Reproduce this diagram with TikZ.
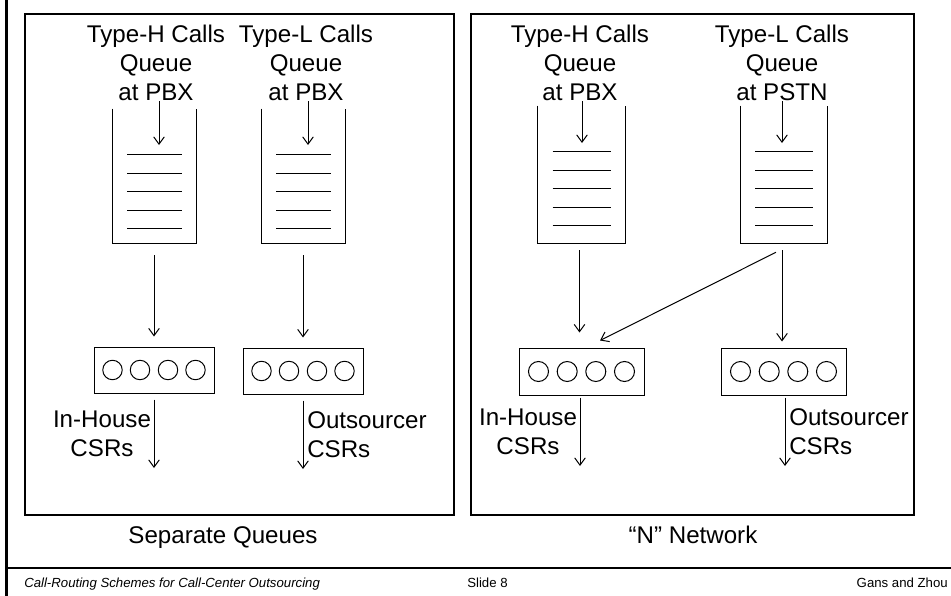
\documentclass[tikz,border=0pt]{standalone}
\usepackage{fontspec}
\setmainfont{Liberation Sans}
\usetikzlibrary{arrows.meta,calc}
\begin{document}
\begin{tikzpicture}[x=0.75pt,y=-0.75pt,
  thinline/.style={line width=0.75pt},
  flow/.style={line width=0.75pt,-{Straight Barb[length=5.5pt,width=8pt]}},
  panel/.style={draw,line width=1.1pt},
  big/.style={font=\fontsize{18.1}{21.75}\selectfont,inner sep=0pt},
  title/.style={big,align=center},
  foot/.style={font=\fontsize{9.9}{12}\selectfont,inner sep=0pt},
  queue/.style={minimum width=83*0.75pt,minimum height=134*0.75pt,inner sep=0pt},
  queueB/.style={minimum width=87*0.75pt,minimum height=137*0.75pt,inner sep=0pt},
  server/.style={draw,thinline,minimum width=120*0.75pt,minimum height=46*0.75pt,inner sep=0pt},
  serverB/.style={draw,thinline,minimum width=125*0.75pt,minimum height=47*0.75pt,inner sep=0pt}]

% page area
\fill[white] (0,0) rectangle (951,596);
\useasboundingbox (0,0) rectangle (951,596);

% slide frame and footer rule
\draw[line width=2.2pt] (6.5,0) -- (6.5,596);
\draw[line width=1.5pt] (6.5,568) -- (951,568);

% ---------- left panel: separate queues ----------
\node[panel,minimum width=429*0.75pt,minimum height=501*0.75pt,inner sep=0pt] (pA) at (239.5,264.5) {};

\node[title] (tH) at (156,63) {Type-H Calls\\Queue\\at PBX};
\node[title] (tL) at (306,63) {Type-L Calls\\Queue\\at PBX};

\node[queue] (qH) at (154.5,176) {};
\node[queue] (qL) at (303.5,176) {};
\foreach \q in {qH,qL}{
  \draw[thinline] (\q.north west) -- (\q.south west) -- (\q.south east) -- (\q.north east);
  \foreach \yy in {155,174,192,211,229}
    \draw[thinline] ($(\q.north)+(-27.5,0)$) ++(0,\yy-109) -- ++(55,0);
}

\coordinate (inH) at (159,145);
\coordinate (inL) at (308,145);
\draw[flow] (tH.south -| inH) -- (inH);
\draw[flow] (tL.south -| inL) -- (inL);

\node[server] (sH) at (154,370) {};
\node[server] (sL) at (303,371) {};
\foreach \s in {sH,sL}
  \foreach \dx in {-41.5,-14,14,41.5}
    \draw[thinline] ($(\s)+(\dx,0)$) circle[radius=7.3pt];

\draw[flow,shorten <=9pt,shorten >=7.5pt] (qH.south -| sH) -- (sH.north);
\draw[flow,shorten <=9pt,shorten >=7.5pt] (qL.south -| sL) -- (sL.north);

\coordinate (oH) at (154,468);
\coordinate (oL) at (303,469);
\draw[flow,shorten <=4.5pt] (sH.south) -- (oH);
\draw[flow,shorten <=4.5pt] (sL.south) -- (oL);

\node[title] (lH) at (102,434) {In-House\\CSRs};
\node[big,align=left,anchor=west] (lL) at (307,435) {Outsourcer\\CSRs};

\node[big,anchor=base] (capA) at (223,543) {Separate Queues};

% ---------- right panel: "N" network ----------
\node[panel,minimum width=443*0.75pt,minimum height=501*0.75pt,inner sep=0pt] (pB) at (692.5,264.5) {};

\node[title] (tH2) at (580,63) {Type-H Calls\\Queue\\at PBX};
\node[title] (tL2) at (782,63) {Type-L Calls\\Queue\\at PSTN};

\node[queueB] (qH2) at (581.5,174.5) {};
\node[queueB] (qL2) at (784,174.5) {};
\foreach \q in {qH2,qL2}{
  \draw[thinline] (\q.north west) -- (\q.south west) -- (\q.south east) -- (\q.north east);
  \foreach \yy in {152,171,189,208,226}
    \draw[thinline] ($(\q.north)+(-29,0)$) ++(0,\yy-106) -- ++(58,0);
}

\coordinate (inH2) at (582,143);
\coordinate (inL2) at (782,143);
\draw[flow] (tH2.south -| inH2) -- (inH2);
\draw[flow] (tL2.south -| inL2) -- (inL2);

\node[serverB] (sH2) at (581.5,371.5) {};
\node[serverB] (sL2) at (783.5,371.5) {};
\foreach \s in {sH2,sL2}
  \foreach \dx in {-43,-14.3,14.3,43}
    \draw[thinline] ($(\s)+(\dx,0)$) circle[radius=7.5pt];

\draw[flow] ($(qH2.south)+(-2,7)$) -- ($(sH2.north)+(-2,-15)$);
\draw[flow] ($(qL2.south)+(-8,9)$) -- ($(sH2.north)+(18.5,-7)$);
\draw[flow] ($(qL2.south)+(-2,7)$) -- ($(sL2.north)+(-1.5,-6)$);

\coordinate (oH2) at (580,466);
\coordinate (oL2) at (785,466);
\draw[flow,shorten <=1.5pt] (sH2.south -| oH2) -- (oH2);
\draw[flow,shorten <=1.5pt] (sL2.south -| oL2) -- (oL2);

\node[title] (lH2) at (528,432) {In-House\\CSRs};
\node[big,align=left,anchor=west] (lL2) at (789,432) {Outsourcer\\CSRs};

\node[big,anchor=base] (capB) at (693,543) {“N” Network};

% ---------- footer ----------
\node[foot,anchor=base west] (fL) at (24,587) {\itshape Call-Routing Schemes for Call-Center Outsourcing};
\node[foot,anchor=base west] (fM) at (467,587) {Slide 8};
\node[foot,anchor=base east] (fR) at (948,587) {Gans and Zhou};
\end{tikzpicture}
\end{document}
